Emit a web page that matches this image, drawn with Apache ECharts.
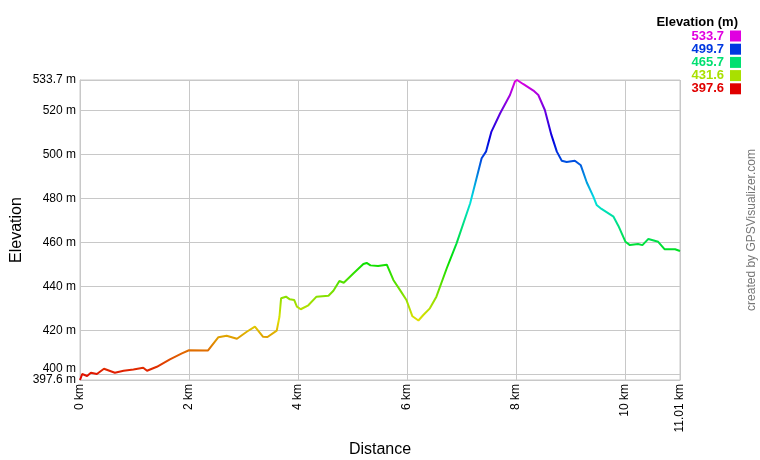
<!DOCTYPE html>
<html>
<head>
<meta charset="utf-8">
<script src="https://cdn.jsdelivr.net/npm/echarts@6/dist/echarts.min.js"></script>
<style>html,body{margin:0;padding:0;background:#fff;}#c{width:760px;height:460px;}</style>
</head>
<body>
<div id="c"></div>
<script>
var distKm = [0,0.04,0.13,0.2,0.31,0.44,0.64,0.8,0.98,1.16,1.23,1.41,1.65,1.87,2.0,2.35,2.54,2.69,2.88,3.06,3.21,3.36,3.44,3.61,3.66,3.69,3.78,3.85,3.93,3.98,4.05,4.19,4.34,4.56,4.65,4.76,4.84,5.02,5.2,5.26,5.33,5.47,5.63,5.75,5.87,5.99,6.1,6.21,6.3,6.42,6.54,6.73,6.91,7.16,7.37,7.45,7.55,7.71,7.89,7.98,8.02,8.13,8.32,8.41,8.53,8.65,8.75,8.84,8.93,9.08,9.19,9.3,9.42,9.48,9.57,9.79,9.88,10.01,10.09,10.24,10.32,10.43,10.61,10.73,10.92,11.01];
var elevM = [397.6,400.3,399.4,400.9,400.3,402.7,400.9,401.8,402.4,403.2,401.8,403.6,407,409.7,411.1,411.0,417,417.7,416.3,419.5,421.8,417.2,417.1,420,426.3,434.7,435.4,434.2,433.9,430.9,429.7,431.5,435.4,435.8,438.1,442.5,441.7,446,450.2,450.7,449.6,449.3,449.9,443,438.5,433.9,426.5,424.6,427.1,430.1,435.4,448.3,459.6,477.8,498.2,501.2,510.3,518.6,526.9,533,533.7,531.9,528.9,526.9,520.1,508.8,501.2,497.1,496.5,497.1,495.0,487.2,480.8,477,475.2,471.7,467.5,460.3,458.8,459.3,458.8,461.6,460.3,456.9,456.9,456.1];
var yTicksMain = [420,440,460,480,500,520,533.7];
var yTickLow = [400];
var yTickMin = [397.6];
var xTicks = [0,2,4,6,8,10,11.01];
var legendStops = [533.7,499.7,465.7,431.6,397.6];
var elevMin = 397.6, elevMax = 533.7;

function hsl(h){
  var s=1,l=0.44;
  var c=(1-Math.abs(2*l-1))*s, x=c*(1-Math.abs((h/60)%2-1)), m=l-c/2, r,g,b;
  if(h<60){r=c;g=x;b=0;}else if(h<120){r=x;g=c;b=0;}else if(h<180){r=0;g=c;b=x;}
  else if(h<240){r=0;g=x;b=c;}else if(h<300){r=x;g=0;b=c;}else{r=c;g=0;b=x;}
  function hx(v){var t=Math.round((v+m)*255).toString(16);return t.length<2?'0'+t:t;}
  return '#'+hx(r)+hx(g)+hx(b);
}
function colorFor(v){return hsl(Math.min(299.99,300*(v-elevMin)/(elevMax-elevMin)));}
var ramp=[];for(var h=0;h<=300;h+=15){ramp.push(hsl(Math.min(h,299.99)));}

var data = distKm.map(function(d,i){return [d,elevM[i]];});
var font = 'Liberation Sans, Arial, sans-serif';

var graphics = [{
  type:'text', x:738, y:22,
  style:{text:'Elevation (m)', font:'bold 13px '+font, fill:'#000', align:'right', verticalAlign:'middle'}
}];
legendStops.forEach(function(v,i){
  var y = 36 + i*13.2;
  graphics.push({type:'text', x:724, y:y, style:{text:v.toFixed(1), font:'bold 13px '+font, fill:colorFor(v), align:'right', verticalAlign:'middle'}});
  graphics.push({type:'rect', shape:{x:730, y:y-5.5, width:11, height:11}, style:{fill:colorFor(v)}});
});
graphics.push({type:'text', rotation:Math.PI/2, x:752, y:230,
  style:{text:'created by GPSVisualizer.com', font:'12px '+font, fill:'#777', align:'center', verticalAlign:'middle'}});

function yAxisExtra(vals, vAlign){
  return {
    type:'value', min:elevMin, max:elevMax, position:'left', offset:0,
    axisLine:{show:false}, axisTick:{show:false, customValues:vals}, splitLine:{show:false},
    axisLabel:{customValues:vals, margin:4, verticalAlign:vAlign, fontFamily:font, fontSize:12, color:'#000',
      formatter:function(v){return v+' m';}}
  };
}

var chart = echarts.init(document.getElementById('c'), null, {renderer:'canvas'});
chart.setOption({
  backgroundColor:'#fff',
  animation:false,
  grid:{left:80, right:80, top:80, bottom:80, containLabel:false, outerBoundsMode:'none',
    show:true, borderColor:'#c8c8c8', borderWidth:1},
  visualMap:{type:'continuous', show:false, dimension:1, seriesIndex:0, min:elevMin, max:elevMax, inRange:{color:ramp}},
  xAxis:{
    type:'value', min:0, max:11.01,
    name:'Distance', nameLocation:'middle', nameGap:62, nameMoveOverlap:false,
    nameTextStyle:{fontFamily:font, fontSize:16, color:'#000'},
    axisLine:{show:true, lineStyle:{color:'#c8c8c8'}},
    axisTick:{show:false, customValues:xTicks},
    axisLabel:{customValues:xTicks, rotate:90, margin:4, hideOverlap:false, showMinLabel:true, showMaxLabel:true,
      fontFamily:font, fontSize:12, color:'#000',
      formatter:function(v){return v+' km';}},
    splitLine:{show:true, lineStyle:{color:'#c8c8c8', width:1}}
  },
  yAxis:[{
    type:'value', min:elevMin, max:elevMax,
    name:'Elevation', nameLocation:'middle', nameGap:55, nameMoveOverlap:false,
    nameTextStyle:{fontFamily:font, fontSize:16, color:'#000'},
    axisLine:{show:true, lineStyle:{color:'#c8c8c8'}},
    axisTick:{show:false, customValues:yTicksMain.concat(yTickLow)},
    axisLabel:{customValues:yTicksMain, margin:4, fontFamily:font, fontSize:12, color:'#000',
      formatter:function(v){return v+' m';}},
    splitLine:{show:true, lineStyle:{color:'#c8c8c8', width:1}}
  }, yAxisExtra(yTickLow, 'bottom'), yAxisExtra(yTickMin, 'middle')],
  graphic:graphics,
  series:[{type:'line', data:data, showSymbol:false, symbol:'none', lineStyle:{width:2}}]
});
</script>
</body>
</html>
